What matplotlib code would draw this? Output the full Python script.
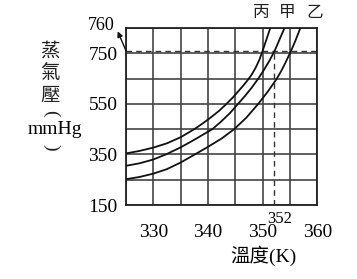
import matplotlib
matplotlib.use("Agg")
import matplotlib.pyplot as plt

# ---- data ----
T_bing = [325, 327.5, 330, 332.5, 335, 337.5, 339, 340.5, 342, 343.2, 344.5, 345.8, 346.6, 347.3, 348.0, 348.7, 349.4, 350.0, 350.7, 351.4]
P_bing = [354, 364, 377, 394, 418, 450, 472, 496, 522, 546, 574, 606, 626, 645, 666, 692, 724, 760, 805, 850]

T_jia = [325, 327.5, 330, 332.3, 335, 337.5, 340.8, 342.4, 344, 345.5, 346.8, 348, 349.2, 350.2, 351.2, 352.2, 353.1, 354.0]
P_jia = [305, 315, 330, 350, 378, 408, 450, 480, 513, 550, 582, 614, 650, 683, 719, 760, 805, 850]

T_yi = [325, 327.5, 330, 332.5, 335, 337.6, 340, 342.5, 344.8, 347, 349.2, 351, 352.6, 353.4, 354.2, 355.2, 356.0, 356.9]
P_yi = [252, 261, 274, 292, 318, 350, 380, 413, 450, 495, 550, 600, 650, 680, 714, 760, 800, 850]

curve_names = ["丙", "甲", "乙"]
x_major = [330, 340, 350, 360]
x_minor = [325, 330, 335, 340, 345, 350, 355, 360]
y_major = [150, 350, 550, 750]
y_minor = [150, 250, 350, 450, 550, 650, 750, 850]
boil_P = 760
boil_T = 352

W, H = 357, 279
SERIF = ["Liberation Serif", "Noto Sans CJK TC", "DejaVu Sans"]
plt.rcParams["font.family"] = SERIF

fig = plt.figure(figsize=(W / 100, H / 100), dpi=100)
L, R, T, B = 126, 317.3, 28, 205
ax = fig.add_axes([L / W, 1 - B / H, (R - L) / W, (B - T) / H])
ax.set_xlim(325, 360)
ax.set_ylim(150, 850)

ax.set_xticks(x_major)
ax.set_xticks(x_minor, minor=True)
ax.set_yticks(y_major)
ax.set_yticks(y_minor, minor=True)
ax.grid(which="both", color="#444444", linewidth=1.2)
ax.set_axisbelow(True)
ax.tick_params(which="both", length=0)
ax.tick_params(axis="x", pad=14, labelsize=14)
ax.tick_params(axis="y", pad=6, labelsize=14)
for s in ax.spines.values():
    s.set_linewidth(1.3)
    s.set_color("#222222")

# dashed reference lines
ax.axhline(boil_P, color="#333333", linewidth=1.0, linestyle=(0, (4, 3)), zorder=2)
ax.plot([boil_T, boil_T], [150, boil_P], color="#333333", linewidth=1.0,
        linestyle=(0, (4, 3)), zorder=2)

for Tx, Py in [(T_bing, P_bing), (T_jia, P_jia), (T_yi, P_yi)]:
    ax.plot(Tx, Py, color="#111111", linewidth=1.3, zorder=3, clip_on=True,
            solid_joinstyle="round")

# 352 label
ax.annotate(str(boil_T), xy=(boil_T, 150), xytext=(4, -10), textcoords="offset points",
            ha="center", va="center", fontsize=12)

# 760 label with arrow
ax.annotate("", xy=(325, boil_P), xytext=(-6, 14), textcoords="offset points",
            arrowprops=dict(arrowstyle="<|-", color="#111111", lw=1.0,
                            mutation_scale=8, shrinkA=0, shrinkB=0), annotation_clip=False)
fig.text(101 / W, 1 - 25 / H, str(boil_P), ha="center", va="center", fontsize=13)

# curve names
for name, xp in zip(curve_names, [261, 287, 315]):
    fig.text(xp / W, 1 - 12 / H, name, ha="center", va="center", fontsize=12,
             family=["Noto Sans CJK TC"], color="#222222")

# y label (vertical)
for ch, yp in zip(["蒸", "氣", "壓"], [51, 73, 95]):
    fig.text(50 / W, 1 - yp / H, ch, ha="center", va="center", fontsize=14,
             family=["Noto Sans CJK TC"], color="#222222")
fig.text(51 / W, 1 - 113 / H, "(", ha="center", va="center", fontsize=14,
         rotation=-90, color="#222222")
fig.text(55 / W, 1 - 129 / H, "mmHg", ha="center", va="center", fontsize=14)
fig.text(51 / W, 1 - 147 / H, ")", ha="center", va="center", fontsize=14,
         rotation=-90, color="#222222")

# x label
fig.text(263 / W, 1 - 256 / H, "溫度(K)", ha="center", va="center", fontsize=14)

fig.savefig("out.png", dpi=100)
